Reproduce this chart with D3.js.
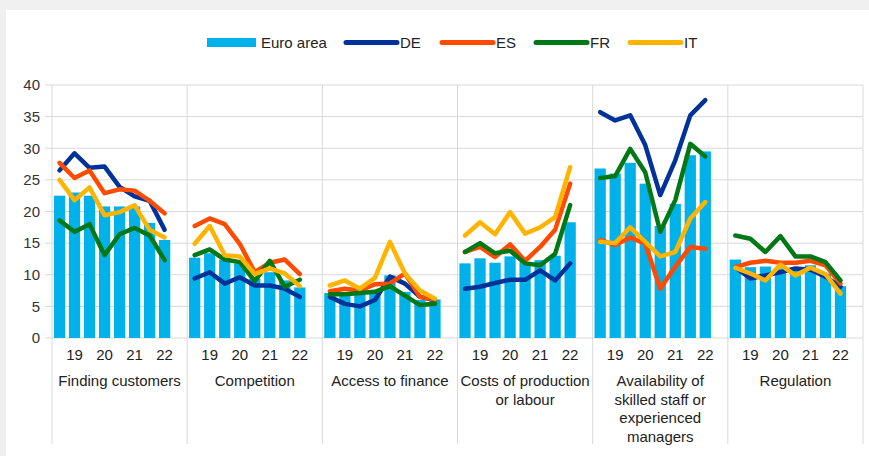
<!DOCTYPE html>
<html>
<head>
<meta charset="utf-8">
<script src="https://cdn.jsdelivr.net/npm/d3@7"></script>
<style>
  body { margin: 0; background: #f0f0f0; }
  svg { display: block; font-family: "Liberation Sans", Arial, sans-serif; }
</style>
</head>
<body>
<div id="chart"></div>
<script>
// panels (one per obstacle) and half-year survey rounds inside each panel
var panels = [
  ["Finding customers"],
  ["Competition"],
  ["Access to finance"],
  ["Costs of production", "or labour"],
  ["Availability of", "skilled staff or", "experienced", "managers"],
  ["Regulation"]
];
var rounds = [0, 1, 2, 3, 4, 5, 6, 7];
var tickLabels = ["", "19", "", "20", "", "21", "", "22"];
var yTicks = [0, 5, 10, 15, 20, 25, 30, 35, 40];

// Euro area (bars)
var euroArea = [
  [22.5, 23.0, 22.5, 20.8, 20.8, 20.8, 18.2, 15.5],
  [12.7, 13.4, 12.4, 11.8, 9.4, 10.4, 9.1, 8.0],
  [7.1, 6.8, 7.0, 7.3, 9.9, 7.3, 6.0, 6.1],
  [11.8, 12.6, 11.9, 12.9, 12.0, 12.3, 13.0, 18.3],
  [26.8, 26.0, 27.7, 24.4, 17.7, 21.2, 28.9, 29.5],
  [12.4, 11.2, 11.3, 11.0, 10.8, 11.5, 10.2, 8.2]
];
// countries (lines)
var de = [
  [26.5, 29.2, 26.9, 27.1, 23.9, 22.4, 21.7, 17.1],
  [9.4, 10.4, 8.6, 9.6, 8.3, 8.3, 7.8, 6.5],
  [6.5, 5.4, 5.0, 6.0, 9.7, 8.6, 6.5, 6.0],
  [7.8, 8.1, 8.7, 9.2, 9.2, 10.7, 9.1, 11.8],
  [35.7, 34.4, 35.2, 30.5, 22.6, 28.1, 35.2, 37.6],
  [11.2, 9.4, 9.9, 10.4, 11.0, 10.8, 9.7, 8.1]
];
var es = [
  [27.7, 25.3, 26.5, 22.9, 23.5, 23.3, 21.7, 19.7],
  [17.7, 18.9, 18.0, 14.9, 10.4, 11.9, 12.4, 10.1],
  [7.4, 7.8, 7.5, 8.5, 8.6, 10.2, 6.5, 6.1],
  [13.6, 14.4, 12.8, 14.8, 12.2, 14.4, 17.1, 24.4],
  [15.5, 14.7, 15.9, 14.9, 7.8, 11.3, 14.4, 14.1],
  [11.2, 11.9, 12.2, 11.9, 11.9, 12.2, 11.5, 8.6]
];
var fr = [
  [18.6, 16.8, 18.0, 13.1, 16.4, 17.4, 16.2, 12.3],
  [13.1, 14.0, 12.4, 12.0, 9.0, 12.2, 8.1, 9.2],
  [6.9, 6.9, 7.1, 7.3, 8.2, 6.7, 5.2, 5.4],
  [13.6, 15.0, 13.4, 13.8, 11.8, 11.5, 13.3, 21.0],
  [25.3, 25.6, 29.9, 26.2, 16.8, 21.8, 30.7, 28.7],
  [16.2, 15.7, 13.6, 16.1, 12.9, 12.9, 12.0, 9.1]
];
var it = [
  [25.0, 21.8, 23.8, 19.4, 19.9, 21.0, 17.1, 15.9],
  [14.9, 17.7, 13.1, 12.9, 10.1, 11.0, 10.2, 8.2],
  [8.3, 9.1, 7.8, 9.5, 15.2, 10.2, 7.5, 6.2],
  [16.2, 18.3, 16.4, 19.9, 16.5, 17.5, 19.1, 27.0],
  [15.2, 15.0, 17.5, 15.2, 12.9, 13.6, 18.9, 21.5],
  [11.1, 10.2, 9.1, 11.6, 9.9, 11.1, 10.1, 7.0]
];

var lineSeries = [
  { name: "DE", color: "#003299", values: de },
  { name: "ES", color: "#ff4b00", values: es },
  { name: "FR", color: "#007816", values: fr },
  { name: "IT", color: "#ffb400", values: it }
];
var barColor = "#00b1ea";
var gridColor = "#d9d9d9";

var svgWidth = 869;
var svgHeight = 456;
var plot = { left: 52, right: 863, top: 85, bottom: 338 };

var svg = d3.select("#chart")
  .append("svg")
  .attr("width", svgWidth)
  .attr("height", svgHeight);

// white card on grey page
svg.append("rect")
  .attr("x", 6).attr("y", 10)
  .attr("width", svgWidth - 6).attr("height", svgHeight - 10)
  .attr("fill", "#fff");

var panelScale = d3.scaleBand()
  .domain(d3.range(panels.length))
  .range([plot.left, plot.right]);

// 9 slots per panel, last one left empty
var slotScale = d3.scaleBand()
  .domain(d3.range(9))
  .range([0, panelScale.bandwidth()])
  .paddingInner(0.25)
  .paddingOuter(0.125);

var y = d3.scaleLinear()
  .domain([0, 40])
  .range([plot.bottom, plot.top]);

// horizontal gridlines
svg.append("g")
  .selectAll("line")
  .data(yTicks)
  .enter()
  .append("line")
  .attr("x1", plot.left - 7)
  .attr("x2", plot.right)
  .attr("y1", function(d) { return y(d); })
  .attr("y2", function(d) { return y(d); })
  .attr("stroke", gridColor)
  .attr("stroke-width", 1);

// panel separators, running down through the labels
svg.append("g")
  .selectAll("line")
  .data(d3.range(panels.length + 1))
  .enter()
  .append("line")
  .attr("x1", function(d) { return d < panels.length ? panelScale(d) : plot.right; })
  .attr("x2", function(d) { return d < panels.length ? panelScale(d) : plot.right; })
  .attr("y1", plot.top)
  .attr("y2", 444)
  .attr("stroke", gridColor)
  .attr("stroke-width", 1);

// y axis labels
var yAxis = svg.append("g")
  .attr("transform", "translate(" + (plot.left - 8) + ",0)")
  .call(d3.axisLeft(y).tickValues(yTicks).tickSize(0).tickPadding(4));
yAxis.select(".domain").remove();
yAxis.selectAll("text")
  .attr("font-size", "15px")
  .attr("font-family", "Liberation Sans, Arial, sans-serif")
  .attr("fill", "#333");

panels.forEach(function(label, p) {
  var g = svg.append("g")
    .attr("transform", "translate(" + panelScale(p) + ",0)");

  g.selectAll("rect")
    .data(euroArea[p])
    .enter()
    .append("rect")
    .attr("x", function(d, i) { return slotScale(i); })
    .attr("y", function(d) { return y(d); })
    .attr("width", slotScale.bandwidth())
    .attr("height", function(d) { return y(0) - y(d); })
    .attr("fill", barColor);

  var line = d3.line()
    .x(function(d, i) { return slotScale(i) + slotScale.bandwidth() / 2; })
    .y(function(d) { return y(d); });

  lineSeries.forEach(function(s) {
    g.append("path")
      .datum(s.values[p])
      .attr("d", line)
      .attr("fill", "none")
      .attr("stroke", s.color)
      .attr("stroke-width", 4.5)
      .attr("stroke-linejoin", "round")
      .attr("stroke-linecap", "round");
  });

  // year ticks
  g.selectAll(".tick-label")
    .data(rounds)
    .enter()
    .append("text")
    .attr("class", "tick-label")
    .attr("x", function(d) { return slotScale(d) + slotScale.bandwidth() / 2; })
    .attr("y", 360)
    .attr("text-anchor", "middle")
    .attr("font-size", "15px")
    .attr("fill", "#222")
    .text(function(d) { return tickLabels[d]; });

  // category name
  g.append("text")
    .attr("x", panelScale.bandwidth() / 2)
    .attr("y", 386)
    .attr("text-anchor", "middle")
    .attr("font-size", "15px")
    .attr("fill", "#222")
    .selectAll("tspan")
    .data(label)
    .enter()
    .append("tspan")
    .attr("x", panelScale.bandwidth() / 2)
    .attr("dy", function(d, i) { return i === 0 ? 0 : 18.5; })
    .text(function(d) { return d; });
});

// legend
var legend = svg.append("g");
legend.append("rect")
  .attr("x", 207).attr("y", 38)
  .attr("width", 49).attr("height", 9)
  .attr("fill", barColor);
legend.append("text")
  .attr("x", 261).attr("y", 48)
  .attr("font-size", "15px").attr("fill", "#222")
  .text("Euro area");

var legendX = [344, 440, 534, 628];
lineSeries.forEach(function(s, i) {
  legend.append("line")
    .attr("x1", legendX[i] + 2).attr("x2", legendX[i] + 53)
    .attr("y1", 42.5).attr("y2", 42.5)
    .attr("stroke", s.color)
    .attr("stroke-width", 5)
    .attr("stroke-linecap", "round");
  legend.append("text")
    .attr("x", legendX[i] + 56).attr("y", 48)
    .attr("font-size", "15px").attr("fill", "#222")
    .text(s.name);
});
</script>
</body>
</html>
